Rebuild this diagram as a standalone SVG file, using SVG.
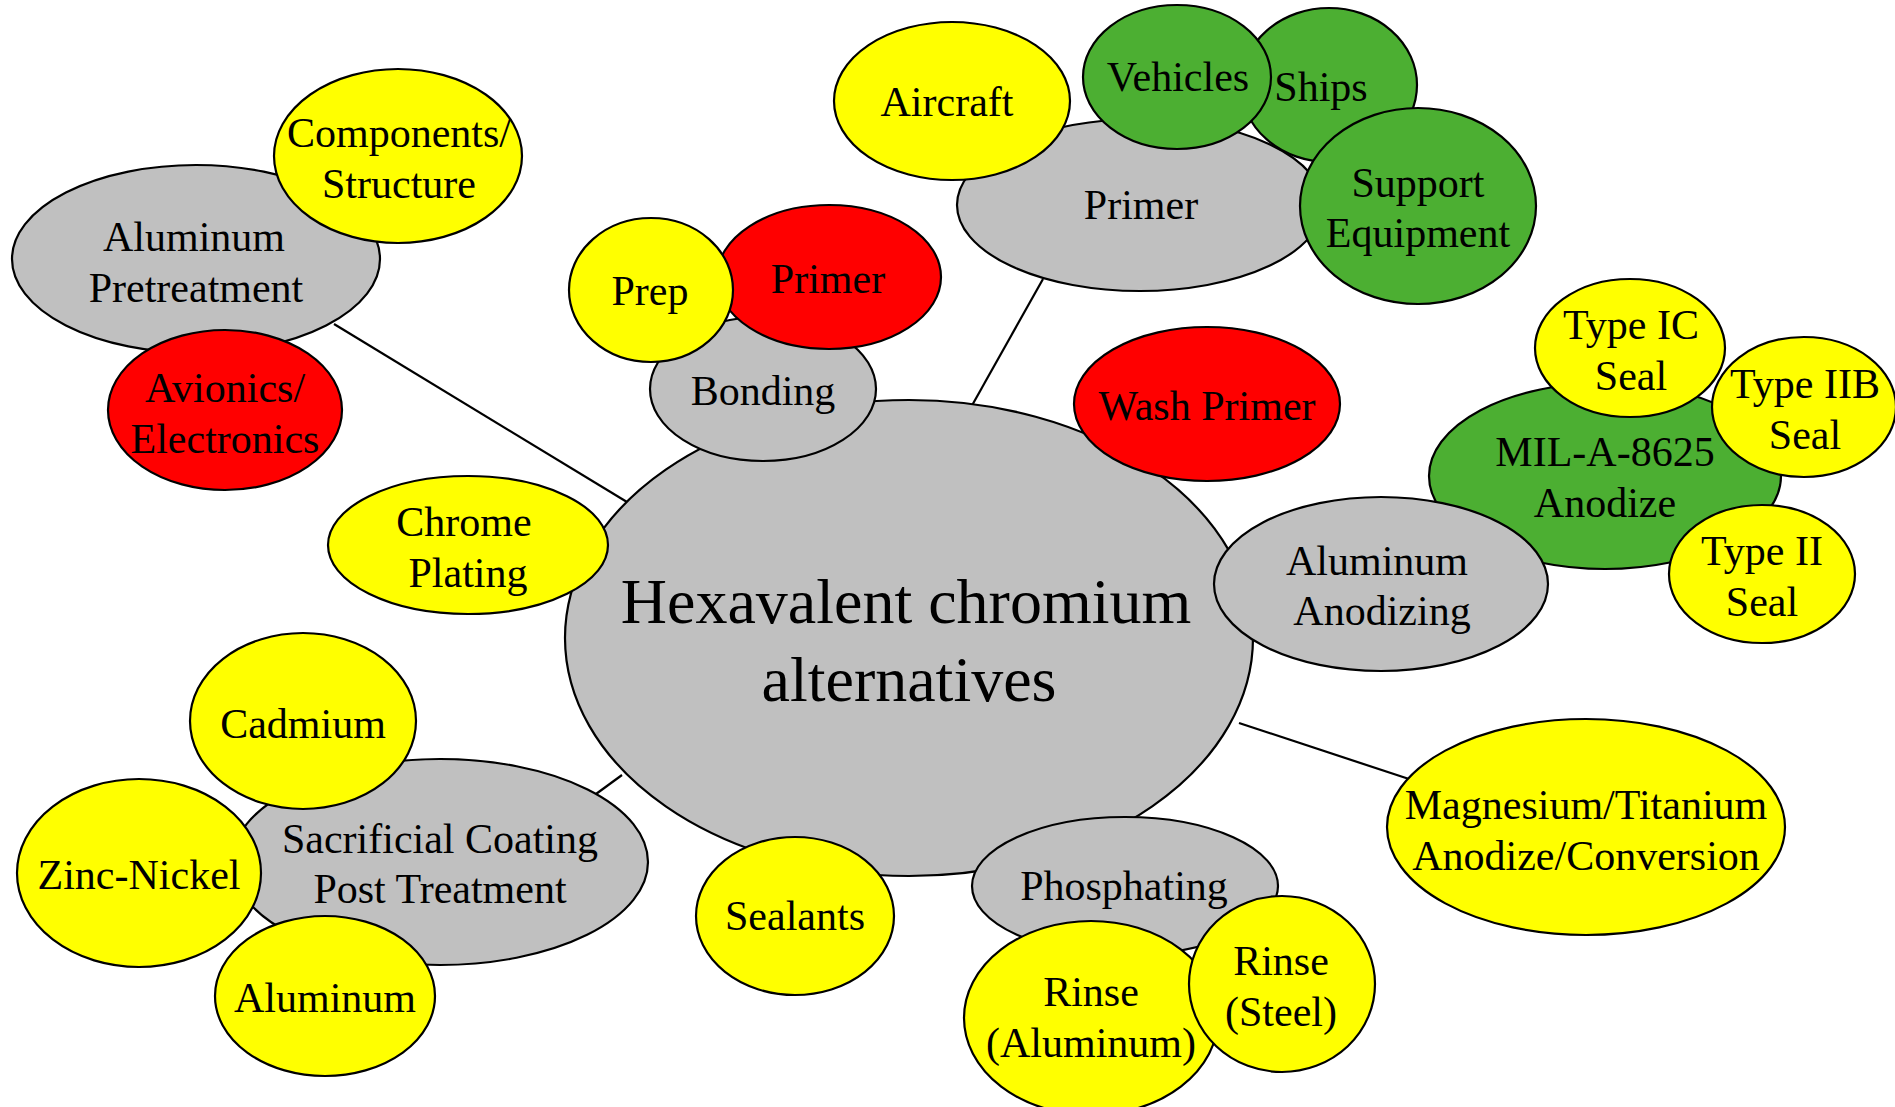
<svg xmlns="http://www.w3.org/2000/svg" width="1895" height="1107" viewBox="0 0 1895 1107">
<style>
ellipse{stroke:#000;stroke-width:2.2}
.g{fill:#C0C0C0}.y{fill:#FFFF00}.r{fill:#FF0000}.gr{fill:#4CAF32}
text{font-family:"Liberation Serif","Times New Roman",serif;font-size:42px;text-anchor:middle;fill:#000}
.big{font-size:64px}
#connectors line{stroke:#000;stroke-width:2.2}
</style>
<rect width="1895" height="1107" fill="#fff"/>
<g id="connectors">
<line x1="334" y1="324" x2="627" y2="502"/>
<line x1="1043" y1="279" x2="970" y2="409"/>
<line x1="1239" y1="723" x2="1409" y2="779"/>
<line x1="596" y1="794" x2="622" y2="775"/>
</g>
<g id="n-center"><ellipse class="g" cx="909" cy="638" rx="344" ry="238"/><text class="big" x="906" y="623">Hexavalent chromium</text><text class="big" x="909" y="701">alternatives</text></g>
<g id="n-alpre"><ellipse class="g" cx="196" cy="259" rx="184" ry="94"/><text x="194" y="251">Aluminum</text><text x="196" y="302">Pretreatment</text></g>
<g id="n-comp"><ellipse class="y" cx="398" cy="156" rx="124" ry="87"/><text x="399" y="147">Components/</text><text x="399" y="198">Structure</text></g>
<g id="n-avion"><ellipse class="r" cx="225" cy="410" rx="117" ry="80"/><text x="225" y="402">Avionics/</text><text x="225" y="453">Electronics</text></g>
<g id="n-chrome"><ellipse class="y" cx="468" cy="545" rx="140" ry="69"/><text x="464" y="536">Chrome</text><text x="468" y="587">Plating</text></g>
<g id="n-bonding"><ellipse class="g" cx="763" cy="389" rx="113" ry="72"/><text x="763" y="405">Bonding</text></g>
<g id="n-bprimer"><ellipse class="r" cx="829" cy="277" rx="112" ry="72"/><text x="828" y="293">Primer</text></g>
<g id="n-prep"><ellipse class="y" cx="651" cy="290" rx="82" ry="72"/><text x="650" y="305">Prep</text></g>
<g id="n-primer"><ellipse class="g" cx="1140" cy="205" rx="183" ry="86"/><text x="1141" y="219">Primer</text></g>
<g id="n-aircraft"><ellipse class="y" cx="952" cy="101" rx="118" ry="79"/><text x="947" y="116">Aircraft</text></g>
<g id="n-ships"><ellipse class="gr" cx="1329" cy="85" rx="88" ry="77"/><text x="1321" y="101">Ships</text></g>
<g id="n-vehicles"><ellipse class="gr" cx="1177" cy="77" rx="94" ry="72"/><text x="1178" y="91">Vehicles</text></g>
<g id="n-support"><ellipse class="gr" cx="1418" cy="206" rx="118" ry="98"/><text x="1418" y="197">Support</text><text x="1418" y="247">Equipment</text></g>
<g id="n-wash"><ellipse class="r" cx="1207" cy="404" rx="133" ry="77"/><text x="1207" y="420">Wash Primer</text></g>
<g id="n-mil"><ellipse class="gr" cx="1605" cy="476" rx="176" ry="93"/><text x="1605" y="466">MIL-A-8625</text><text x="1605" y="517">Anodize</text></g>
<g id="n-alanod"><ellipse class="g" cx="1381" cy="584" rx="167" ry="87"/><text x="1377" y="575">Aluminum</text><text x="1382" y="625">Anodizing</text></g>
<g id="n-typeic"><ellipse class="y" cx="1630" cy="348" rx="95" ry="69"/><text x="1631" y="339">Type IC</text><text x="1631" y="390">Seal</text></g>
<g id="n-typeiib"><ellipse class="y" cx="1804" cy="407" rx="92" ry="70"/><text x="1805" y="398">Type IIB</text><text x="1805" y="449">Seal</text></g>
<g id="n-typeii"><ellipse class="y" cx="1762" cy="574" rx="93" ry="69"/><text x="1762" y="565">Type II</text><text x="1762" y="616">Seal</text></g>
<g id="n-mag"><ellipse class="y" cx="1586" cy="827" rx="199" ry="108"/><text x="1586" y="819">Magnesium/Titanium</text><text x="1586" y="870">Anodize/Conversion</text></g>
<g id="n-phos"><ellipse class="g" cx="1125" cy="886" rx="153" ry="69"/><text x="1124" y="900">Phosphating</text></g>
<g id="n-rinseal"><ellipse class="y" cx="1091" cy="1018" rx="127" ry="97"/></g>
<g id="n-rinsest"><ellipse class="y" cx="1282" cy="984" rx="93" ry="88"/><text x="1281" y="975">Rinse</text><text x="1281" y="1026">(Steel)</text></g>
<g id="n-rinseal-label"><text x="1091" y="1006">Rinse</text><text x="1091" y="1057">(Aluminum)</text></g>
<g id="n-sealants"><ellipse class="y" cx="795" cy="916" rx="99" ry="79"/><text x="795" y="930">Sealants</text></g>
<g id="n-sacr"><ellipse class="g" cx="440" cy="862" rx="208" ry="103"/><text x="440" y="853">Sacrificial Coating</text><text x="440" y="903">Post Treatment</text></g>
<g id="n-cad"><ellipse class="y" cx="303" cy="721" rx="113" ry="88"/><text x="303" y="738">Cadmium</text></g>
<g id="n-zinc"><ellipse class="y" cx="139" cy="873" rx="122" ry="94"/><text x="139" y="889">Zinc-Nickel</text></g>
<g id="n-alum"><ellipse class="y" cx="325" cy="996" rx="110" ry="80"/><text x="325" y="1012">Aluminum</text></g>
</svg>
